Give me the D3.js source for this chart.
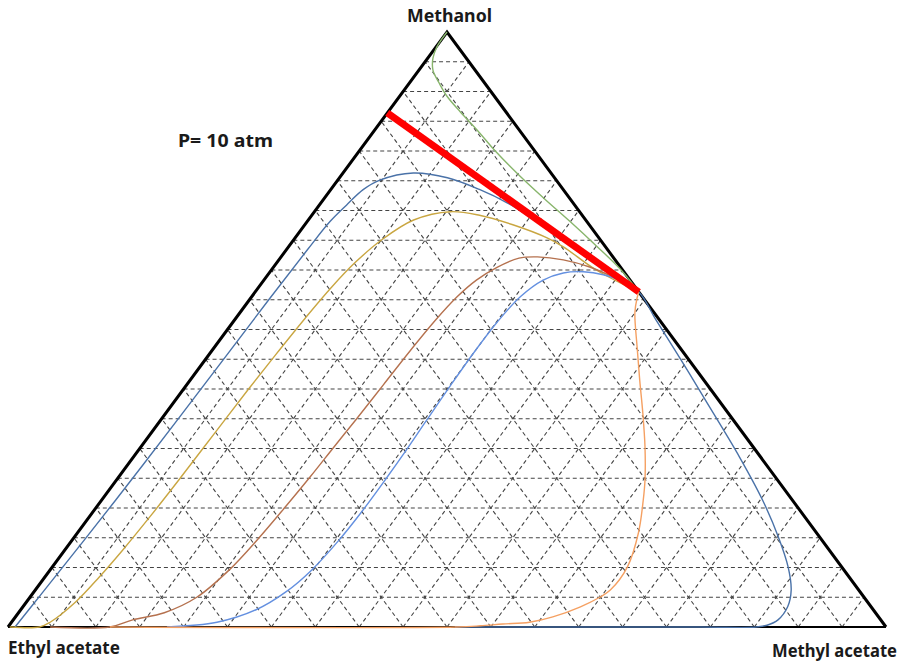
<!DOCTYPE html>
<html>
<head>
<meta charset="utf-8">
<script src="https://cdn.jsdelivr.net/npm/d3@7"></script>
<style>
  body { margin: 0; background: #fff; }
  text { font-family: "Noto Sans", "Open Sans", sans-serif; font-weight: bold; fill: #1a1a1a; }
</style>
</head>
<body>
<svg id="chart"></svg>
<script>
// every point is [methanol, methyl acetate] as mole fractions, ethyl acetate is the rest
const cornerLabels = ["Methanol", "Ethyl acetate", "Methyl acetate"];
const pressureLabel = "P= 10 atm";
const gridSteps = 20;

const redLine = [[0.864, 0], [0.563, 0.437]];

const greenCurve = [
  [1, 0], [0.975, 0.001], [0.956, 0.006], [0.936, 0.016], [0.913, 0.035], [0.892, 0.054],
  [0.866, 0.082], [0.835, 0.117], [0.800, 0.155], [0.758, 0.204], [0.719, 0.252],
  [0.681, 0.300], [0.642, 0.348], [0.602, 0.396], [0.563, 0.437]
];

const darkBlueCurve = [
  [0, 0.008], [0.049, 0.010], [0.213, 0.016], [0.348, 0.019], [0.550, 0.022], [0.634, 0.024],
  [0.681, 0.026], [0.709, 0.031], [0.735, 0.037], [0.751, 0.048], [0.763, 0.080],
  [0.755, 0.123], [0.735, 0.170], [0.713, 0.212], [0.689, 0.250], [0.647, 0.311],
  [0.605, 0.375], [0.563, 0.437], [0.516, 0.480], [0.449, 0.542], [0.382, 0.603],
  [0.286, 0.690], [0.213, 0.753], [0.151, 0.802], [0.101, 0.838], [0.062, 0.861],
  [0.034, 0.871], [0.012, 0.871], [0.003, 0.863], [0, 0.852], [0, 0.790], [0, 0.509]
];

const yellowCurve = [
  [0, 0.002], [0, 0.036], [0.008, 0.044], [0.042, 0.056], [0.084, 0.062], [0.129, 0.066],
  [0.185, 0.069], [0.247, 0.071], [0.303, 0.072], [0.348, 0.073], [0.400, 0.074],
  [0.457, 0.076], [0.519, 0.079], [0.571, 0.083], [0.612, 0.089], [0.650, 0.100],
  [0.684, 0.120], [0.698, 0.155], [0.692, 0.191], [0.676, 0.237], [0.654, 0.287],
  [0.639, 0.313], [0.600, 0.370], [0.563, 0.437]
];

const brownCurve = [
  [0, 0.048], [0, 0.116], [0.012, 0.136], [0.024, 0.166], [0.050, 0.190], [0.096, 0.204],
  [0.150, 0.211], [0.202, 0.215], [0.252, 0.218], [0.303, 0.220], [0.348, 0.222],
  [0.407, 0.224], [0.466, 0.226], [0.516, 0.229], [0.555, 0.234], [0.583, 0.242],
  [0.605, 0.255], [0.620, 0.272], [0.622, 0.292], [0.617, 0.324], [0.605, 0.360],
  [0.588, 0.395], [0.563, 0.437]
];

const lightBlueCurve = [
  [0, 0.181], [0.008, 0.234], [0.029, 0.268], [0.059, 0.287], [0.096, 0.298], [0.146, 0.304],
  [0.192, 0.306], [0.247, 0.306], [0.298, 0.305], [0.348, 0.303], [0.407, 0.301],
  [0.466, 0.300], [0.513, 0.301], [0.555, 0.306], [0.583, 0.318], [0.595, 0.335],
  [0.597, 0.357], [0.592, 0.382], [0.580, 0.411], [0.563, 0.437]
];

const orangeCurve = [
  [0.563, 0.437], [0.553, 0.440], [0.528, 0.450], [0.471, 0.481], [0.415, 0.512],
  [0.360, 0.543], [0.303, 0.574], [0.247, 0.602], [0.213, 0.617], [0.158, 0.639],
  [0.101, 0.655], [0.062, 0.655], [0.050, 0.649], [0.034, 0.635], [0.017, 0.612],
  [0.008, 0.590], [0.005, 0.561], [0.002, 0.537], [0, 0.511], [0, 0.116]
];

const width = 908, height = 663;

const svg = d3.select("#chart")
  .attr("width", width)
  .attr("height", height);

// triangle corners: ethyl acetate (8,627), methyl acetate (886,627), methanol on top
const x = d3.scaleLinear().domain([0, 1]).range([8, 886]);
const y = d3.scaleLinear().domain([0, 1]).range([627, 32]);

function px(d) { return x(d[1] + d[0] / 2); }
function py(d) { return y(d[0]); }

// dashed grid, 5 % steps
const grid = [];
for (let k = 1; k < gridSteps; k++) {
  const f = k / gridSteps;
  grid.push([[f, 0], [f, 1 - f]]);
  grid.push([[0, f], [1 - f, f]]);
  grid.push([[0, 1 - f], [1 - f, 0]]);
}
svg.append("g")
  .selectAll("line")
  .data(grid)
  .join("line")
  .attr("x1", d => px(d[0]))
  .attr("y1", d => py(d[0]))
  .attr("x2", d => px(d[1]))
  .attr("y2", d => py(d[1]))
  .attr("stroke", "#444")
  .attr("stroke-width", 1.1)
  .attr("stroke-dasharray", "4,3");

// triangle border
svg.append("path")
  .attr("d", d3.line().x(px).y(py)([[0, 0], [1, 0], [0, 1]]))
  .attr("fill", "none")
  .attr("stroke", "#000")
  .attr("stroke-width", 3)
  .attr("stroke-linejoin", "miter");
svg.append("line")
  .attr("x1", px([0, 0])).attr("y1", py([0, 0]))
  .attr("x2", px([0, 1])).attr("y2", py([0, 1]))
  .attr("stroke", "#000")
  .attr("stroke-width", 2);

const curve = d3.line().x(px).y(py).curve(d3.curveCatmullRom.alpha(0.5));

const series = [
  { data: greenCurve, color: "#88b56c" },
  { data: darkBlueCurve, color: "#4a72a8" },
  { data: yellowCurve, color: "#c9a641" },
  { data: brownCurve, color: "#b5714e" },
  { data: lightBlueCurve, color: "#6490e0" },
  { data: orangeCurve, color: "#f5a062" }
];

svg.append("g")
  .selectAll("path")
  .data(series)
  .join("path")
  .attr("d", d => curve(d.data))
  .attr("fill", "none")
  .attr("stroke", d => d.color)
  .attr("stroke-width", 1.4);

svg.append("path")
  .attr("d", d3.line().x(px).y(py)(redLine))
  .attr("fill", "none")
  .attr("stroke", "#ff0000")
  .attr("stroke-width", 7);

// labels
svg.append("text")
  .attr("x", 407).attr("y", 22)
  .attr("font-size", 17)
  .attr("textLength", 85).attr("lengthAdjust", "spacingAndGlyphs")
  .text(cornerLabels[0]);
svg.append("text")
  .attr("x", 8).attr("y", 654)
  .attr("font-size", 17)
  .attr("textLength", 112).attr("lengthAdjust", "spacingAndGlyphs")
  .text(cornerLabels[1]);
svg.append("text")
  .attr("x", 772).attr("y", 657)
  .attr("font-size", 17)
  .attr("textLength", 125).attr("lengthAdjust", "spacingAndGlyphs")
  .text(cornerLabels[2]);
svg.append("text")
  .attr("x", 178).attr("y", 147)
  .attr("font-size", 17)
  .attr("textLength", 95).attr("lengthAdjust", "spacingAndGlyphs")
  .text(pressureLabel);
</script>
</body>
</html>
